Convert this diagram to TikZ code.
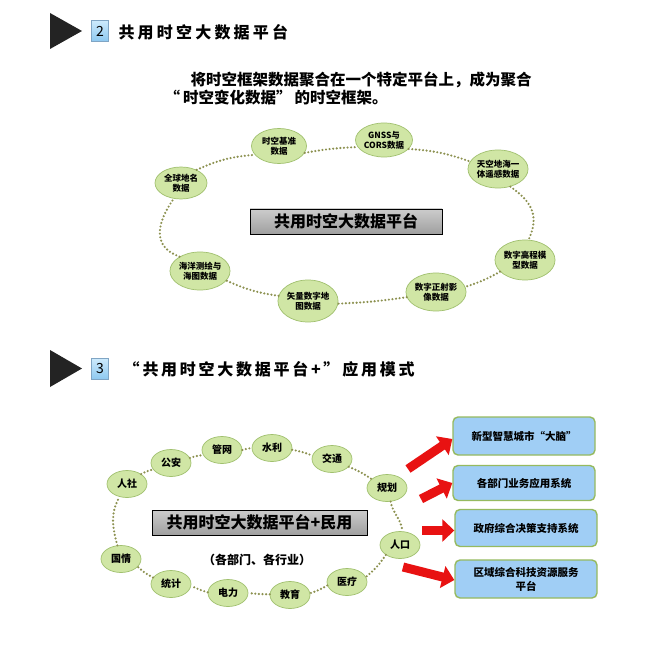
\documentclass[tikz,border=0pt]{standalone}
\usepackage{fontspec}
\setmainfont{Noto Sans CJK SC}
\newfontfamily\widefont[LetterSpace=20]{Noto Sans CJK SC}
\newfontfamily\midfont[LetterSpace=17]{Noto Sans CJK SC}
\usetikzlibrary{arrows.meta,shapes.geometric}
\definecolor{nodefill}{RGB}{208,230,165}
\definecolor{nodeedge}{RGB}{160,192,110}
\definecolor{dotc}{RGB}{140,145,80}
\definecolor{boxfill}{RGB}{160,206,245}
\definecolor{boxedge}{RGB}{150,186,95}
\definecolor{arrred}{RGB}{232,18,18}
\definecolor{tric}{RGB}{35,35,35}
\definecolor{numtop}{RGB}{205,234,252}
\definecolor{numbot}{RGB}{140,200,240}
\tikzset{
  tri/.style={fill=tric, draw=none},
  numbox/.style={draw=boxfill!80!black, line width=0.4pt, top color=numtop, bottom color=numbot, minimum width=17pt, minimum height=21pt, inner sep=0pt, font=\fontsize{14}{14}\selectfont},
  dnode/.style={ellipse, draw=nodeedge, fill=nodefill, line width=0.7pt, inner sep=0pt, align=center, font=\fontsize{8.5}{10}\selectfont\bfseries},
  anode/.style={ellipse, draw=nodeedge, fill=nodefill, line width=0.7pt, inner sep=0pt, minimum width=40pt, minimum height=27pt, align=center, font=\fontsize{10}{11}\selectfont\bfseries},
  dotline/.style={draw=dotc, line width=2.4pt, line cap=round, dash pattern=on 0pt off 3.6pt},
  centerbox/.style={draw=black, line width=0.9pt, top color=gray!40, bottom color=gray!75, inner sep=0pt, font=\fontsize{16}{16}\selectfont\bfseries},
  appbox/.style={draw=boxedge, line width=1.4pt, fill=boxfill, rounded corners=5pt, minimum width=142pt, inner sep=0pt, align=center, font=\fontsize{10.5}{14}\selectfont\bfseries},
  redarrow/.style={draw=arrred, line width=9pt, -{Triangle[length=12pt,width=22pt]}}
}
\begin{document}
\begin{tikzpicture}[x=1pt,y=1pt]
\useasboundingbox (0,0) rectangle (656,-655);
\fill[white] (0,0) rectangle (656,-655);

% ---- section 2 header
\fill[tri] (50,-13) -- (50,-49) -- (82,-31) -- cycle;
\node[numbox] (n2) at (100,-31) {2};
\node[anchor=west, font=\fontsize{16}{16}\selectfont\widefont\bfseries] (t2) at (115,-32) {共用时空大数据平台};
\node[anchor=west, font=\fontsize{15.5}{16}\selectfont\bfseries] (p1) at (187,-80) {将时空框架数据聚合在一个特定平台上，成为聚合};
\node[anchor=west, font=\fontsize{15.5}{16}\selectfont\bfseries] (p2) at (161,-98) {“\hspace{3pt}时空变化数据”\hspace{3pt}的时空框架。};

% ---- diagram 1
\node[dnode, minimum width=52pt, minimum height=32pt] (A) at (181,-183) {全球地名\\数据};
\node[dnode, minimum width=55pt, minimum height=35pt] (B) at (279,-146) {时空基准\\数据};
\node[dnode, minimum width=49pt, minimum height=34pt] (C) at (384,-140) {GNSS与\\CORS数据};
\node[dnode, minimum width=58pt, minimum height=38pt] (D) at (498,-169) {天空地海一\\体遥感数据};
\node[dnode, minimum width=57pt, minimum height=40pt] (E) at (525,-260) {数字高程模\\型数据};
\node[dnode, minimum width=57pt, minimum height=38pt] (F) at (436,-292) {数字正射影\\像数据};
\node[dnode, minimum width=57pt, minimum height=42pt] (G) at (308,-301) {矢量数字地\\图数据};
\node[dnode, minimum width=56pt, minimum height=38pt] (H) at (200,-271) {海洋测绘与\\海图数据};
\node[centerbox, minimum width=192pt, minimum height=25pt] (P1) at (346,-221.5) {共用时空大数据平台};

\draw[dotline] (A.40) to[bend left=10] (B.200);
\draw[dotline] (B.-15) to[bend left=4] (C.195);
\draw[dotline] (C.-20) to[bend left=8] (D.165);
\draw[dotline] (D.-55) to[out=-35,in=65,looseness=1.2] (E.80);
\draw[dotline] (E.205) to[bend left=6] (F.10);
\draw[dotline] (F.190) to[bend left=3] (G.-5);
\draw[dotline] (G.170) to[bend left=8] (H.-20);
\draw[dotline] (H.145) to[out=160,in=-125,looseness=1.3] (A.-115);

% ---- section 3 header
\fill[tri] (50,-350) -- (50,-387) -- (82,-368.5) -- cycle;
\node[numbox] (n3) at (100,-369) {3};
\node[anchor=west, font=\fontsize{16}{16}\selectfont\midfont\bfseries] (t3) at (120,-369) {“\hspace{3pt}共用时空大数据平台+”\hspace{3pt}应用模式};

% ---- diagram 2
\node[anode] (rs) at (127,-484) {人社};
\node[anode] (ga) at (171,-463) {公安};
\node[anode] (gw) at (222,-450) {管网};
\node[anode] (sl) at (272,-448) {水利};
\node[anode] (jt) at (332,-459) {交通};
\node[anode] (gh) at (387,-488) {规划};
\node[anode] (rk) at (400,-545) {人口};
\node[anode] (yl) at (347,-582) {医疗};
\node[anode] (jy) at (290,-595) {教育};
\node[anode] (dl) at (228,-593) {电力};
\node[anode] (tj) at (171,-584) {统计};
\node[anode] (gq) at (121,-559) {国情};
\node[centerbox, minimum width=215pt, minimum height=25pt] (P2) at (259.5,-522.5) {共用时空大数据平台+民用};
\node[font=\fontsize{12}{12}\selectfont\bfseries] (sub) at (257,-560) {（各部门、各行业）};

\draw[dotline] (rs.35) to[bend left=8] (ga.200);
\draw[dotline] (ga.15) to[bend left=6] (gw.195);
\draw[dotline] (gw.0) to[bend left=5] (sl.180);
\draw[dotline] (sl.-5) to[bend left=5] (jt.170);
\draw[dotline] (jt.-25) to[bend left=6] (gh.150);
\draw[dotline] (gh.-75) to[out=-80,in=95] (rk.80);
\draw[dotline] (rk.215) to[bend left=8] (yl.15);
\draw[dotline] (yl.190) to[bend left=6] (jy.5);
\draw[dotline] (jy.178) to[bend left=3] (dl.0);
\draw[dotline] (dl.178) to[bend left=6] (tj.-5);
\draw[dotline] (tj.160) to[bend left=8] (gq.-25);
\draw[dotline] (gq.105) to[out=105,in=-120] (rs.-120);

% ---- application boxes
\node[appbox, minimum height=38pt] (b1) at (524,-436) {新型智慧城市“大脑”};
\node[appbox, minimum height=35pt] (b2) at (524,-483) {各部门业务应用系统};
\node[appbox, minimum height=37pt] (b3) at (526,-528) {政府综合决策支持系统};
\node[appbox, minimum height=38pt] (b4) at (526,-579) {区域综合科技资源服务\\平台};

\coordinate (s1) at (408,-469);
\coordinate (s2) at (421,-499);
\coordinate (s3) at (422,-530.5);
\coordinate (s4) at (403,-567);
\draw[redarrow] (s1) -- ([yshift=-3pt]b1.west);
\draw[redarrow] (s2) -- ([yshift=0pt]b2.west);
\draw[redarrow] (s3) -- ([yshift=-2.5pt]b3.west);
\draw[redarrow] (s4) -- ([yshift=-1pt]b4.west);
\end{tikzpicture}
\end{document}
